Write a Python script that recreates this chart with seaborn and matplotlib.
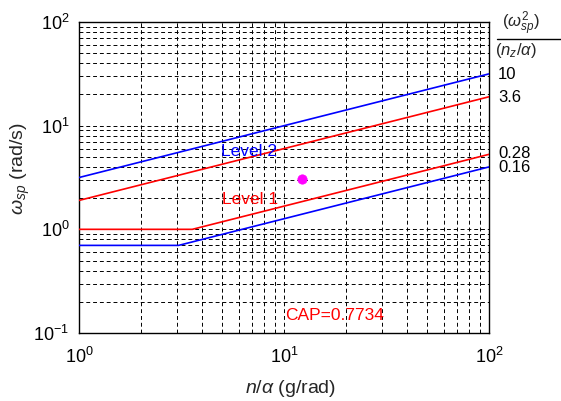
import numpy as np
import pandas as pd
import matplotlib
matplotlib.use("Agg")
import matplotlib.pyplot as plt
import seaborn as sns

# CAP boundary lines: omega_sp vs n/alpha (log-log), listed at their end points and knees
level2_upper_x = [1.0, 100.0]
level2_upper_y = [3.16, 31.6]
level1_upper_x = [1.0, 100.0]
level1_upper_y = [1.9, 19.0]
level1_lower_x = [1.0, 3.57, 100.0]
level1_lower_y = [1.0, 1.0, 5.29]
level2_lower_x = [1.0, 3.06, 100.0]
level2_lower_y = [0.7, 0.7, 4.0]

boundary_labels = ["10", "3.6", "0.28", "0.16"]
boundary_label_y = [31.0, 18.5, 5.4, 3.95]

# Design point
point_n_alpha = [12.2]
point_omega = [3.07]
cap_value = 0.7734

sns.set_theme(style="white")
plt.rcParams["font.family"] = ["Liberation Sans", "DejaVu Sans"]
plt.rcParams["mathtext.fontset"] = "custom"
plt.rcParams["mathtext.rm"] = "Liberation Sans"
plt.rcParams["mathtext.it"] = "Liberation Sans:italic"

fig = plt.figure(figsize=(5.61, 4.01), dpi=100)
ax = fig.add_axes([79 / 561, 68 / 401, 410 / 561, 311 / 401])

lines = pd.concat([
    pd.DataFrame({"x": level2_upper_x, "y": level2_upper_y, "line": "l2u"}),
    pd.DataFrame({"x": level1_upper_x, "y": level1_upper_y, "line": "l1u"}),
    pd.DataFrame({"x": level1_lower_x, "y": level1_lower_y, "line": "l1l"}),
    pd.DataFrame({"x": level2_lower_x, "y": level2_lower_y, "line": "l2l"}),
])
palette = {"l2u": "#0000ff", "l1u": "#ff0000", "l1l": "#ff0000", "l2l": "#0000ff"}
sns.lineplot(data=lines, x="x", y="y", hue="line", palette=palette, units="line",
             estimator=None, sort=False, linewidth=1.2, legend=False, ax=ax, zorder=3)

pts = pd.DataFrame({"x": point_n_alpha, "y": point_omega})
sns.scatterplot(data=pts, x="x", y="y", color="#ff00ff", s=45, edgecolor="#ff00ff",
                ax=ax, zorder=4, legend=False)

ax.set_xscale("log")
ax.set_yscale("log")
ax.set_xlim(1, 100)
ax.set_ylim(0.1, 100)

ax.grid(True, which="both", color="black", linestyle=(0, (4, 3)), linewidth=0.7)
ax.set_axisbelow(True)
for s in ax.spines.values():
    s.set_color("black")
    s.set_linewidth(1.0)
ax.tick_params(axis="both", which="both", length=0, labelsize=13, colors="black")
ax.tick_params(axis="x", pad=10)
ax.tick_params(axis="y", pad=7)

ax.set_xlabel(r"$n/\alpha$ (g/rad)", fontsize=14)
ax.set_ylabel(r"$\omega_{sp}$ (rad/s)", fontsize=14)
ax.xaxis.set_label_coords(0.517, -0.145)
ax.yaxis.set_label_coords(-0.115, 0.53)

ax.text(4.93, 5.6, "Level 2", color="#0000ff", fontsize=12.5, va="center")
ax.text(5.0, 1.93, "Level 1", color="#ff0000", fontsize=12.5, va="center")
ax.text(10.1, 0.146, f"CAP={cap_value}", color="#ff0000", fontsize=12.5, va="center")

for lab, yv in zip(boundary_labels, boundary_label_y):
    ax.text(1.022, yv, lab, transform=ax.get_yaxis_transform(), fontsize=12,
            va="center", ha="left", color="black")

ax.text(1.078, 0.948, r"$(\omega^2_{sp})$", transform=ax.transAxes, fontsize=12,
        ha="center", va="bottom")
ax.text(1.066, 0.94, r"$(n_z/\alpha)$", transform=ax.transAxes, fontsize=12,
        ha="center", va="top")
ax.plot([1.02, 1.18], [0.945, 0.945], transform=ax.transAxes, color="black",
        linewidth=1.0, clip_on=False)

fig.savefig("out.png", dpi=100)
